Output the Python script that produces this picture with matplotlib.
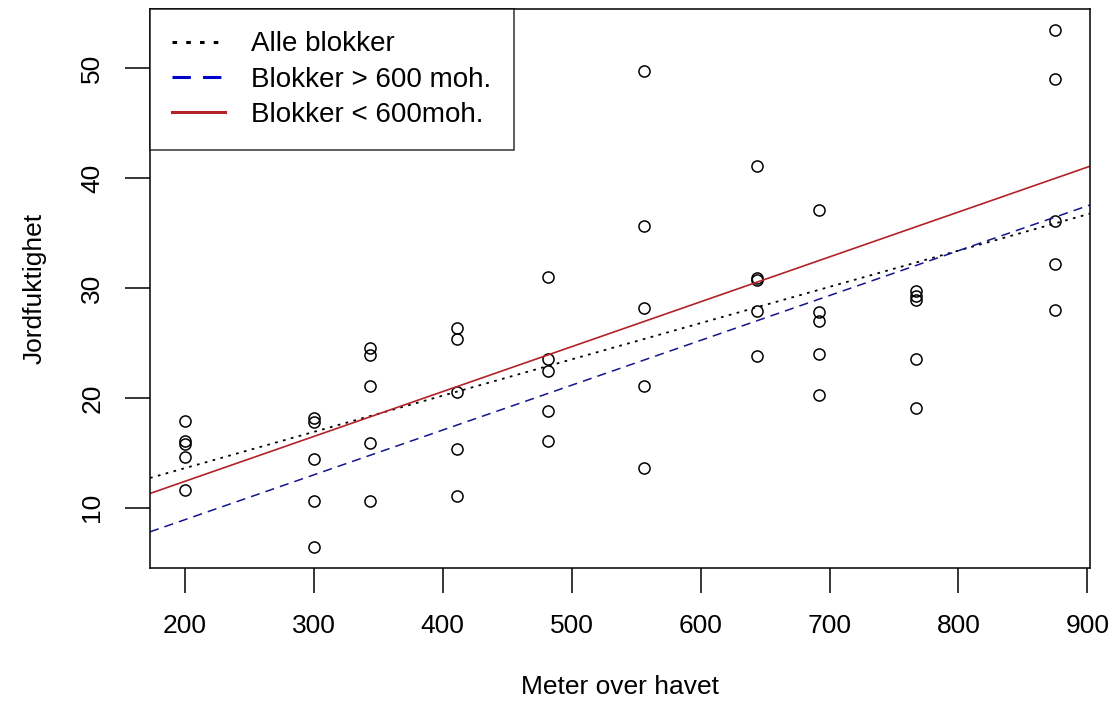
import matplotlib
matplotlib.use("Agg")
import matplotlib.pyplot as plt
import numpy as np

# Høyde (moh.) for hver blokk og målt jordfuktighet
hoyde = [200, 300, 344, 411, 482, 556, 644, 692, 767, 875]
fukt = [
    [17.9, 16.1, 15.8, 14.6, 11.6],
    [18.2, 17.8, 14.4, 10.6, 6.4],
    [24.5, 23.9, 21.1, 15.9, 10.6],
    [26.4, 25.4, 20.5, 15.3, 11.1],
    [31.0, 23.5, 22.4, 18.8, 16.1],
    [49.7, 35.6, 28.2, 21.1, 13.6],
    [41.1, 30.9, 30.7, 27.9, 23.8],
    [37.1, 27.8, 27.0, 24.0, 20.3],
    [29.7, 29.3, 28.9, 23.5, 19.1],
    [53.5, 49.0, 36.1, 32.2, 28.0],
]

# Regresjonslinjer (intercept, stigning)
linje_navn = ["Alle blokker", "Blokker > 600 moh.", "Blokker < 600moh."]
intercept = [7.0, 0.75, 4.23]
stigning = [0.0330, 0.0408, 0.04085]

x_ticks = [200, 300, 400, 500, 600, 700, 800, 900]
y_ticks = [10, 20, 30, 40, 50]

plt.rcParams['font.family'] = ['Liberation Sans', 'DejaVu Sans']

x = []
y = []
for h, verdier in zip(hoyde, fukt):
    for v in verdier:
        x.append(h)
        y.append(v)
x = np.array(x)
y = np.array(y)

fig = plt.figure(figsize=(11.14, 7.04), dpi=100)
ax = fig.add_axes([150/1114, 1 - 568/704, 940/1114, 559/704])

ax.plot(x, y, 'o', markerfacecolor='none', markeredgecolor='black',
        markersize=8, markeredgewidth=1.1, linestyle='none')

# R-aktig utvidelse av aksene (4 %)
xr = x.max() - x.min()
yr = y.max() - y.min()
ax.set_xlim(x.min() - 0.04*xr, x.max() + 0.04*xr)
ax.set_ylim(y.min() - 0.04*yr, y.max() + 0.04*yr)

stiler = [(0, (1.5, 3.0)), (0, (6, 4)), '-']
farger = ['black', '#14148c', '#b22228']
bredder = [1.3, 1.1, 1.2]
for navn, a, b, ls, c, lw in zip(linje_navn, intercept, stigning, stiler, farger, bredder):
    ax.axline((0, a), slope=b, linestyle=ls, color=c, linewidth=lw, label=navn)

ax.set_xticks(x_ticks)
ax.set_yticks(y_ticks)
ax.tick_params(axis='both', direction='out', length=18, width=1.1, labelsize=19, pad=15)
for lab in ax.get_yticklabels():
    lab.set_rotation(90)
    lab.set_va('center')
for s in ax.spines.values():
    s.set_linewidth(1.1)

ax.set_xlabel('Meter over havet', fontsize=19, labelpad=27)
ax.set_ylabel('Jordfuktighet', fontsize=19, labelpad=24)

leg = ax.legend(loc='upper left', bbox_to_anchor=(0, 1), borderaxespad=0,
                fancybox=False, edgecolor='black', fontsize=20,
                handlelength=1.9, handletextpad=0.95, labelspacing=0.34,
                borderpad=0.8)
leg.get_frame().set_linewidth(1.1)
for h, c in zip(leg.get_lines(), ['black', '#0000cc', '#b22228']):
    h.set_linewidth(2.2)
    h.set_color(c)

fig.savefig('out.png', dpi=100)
